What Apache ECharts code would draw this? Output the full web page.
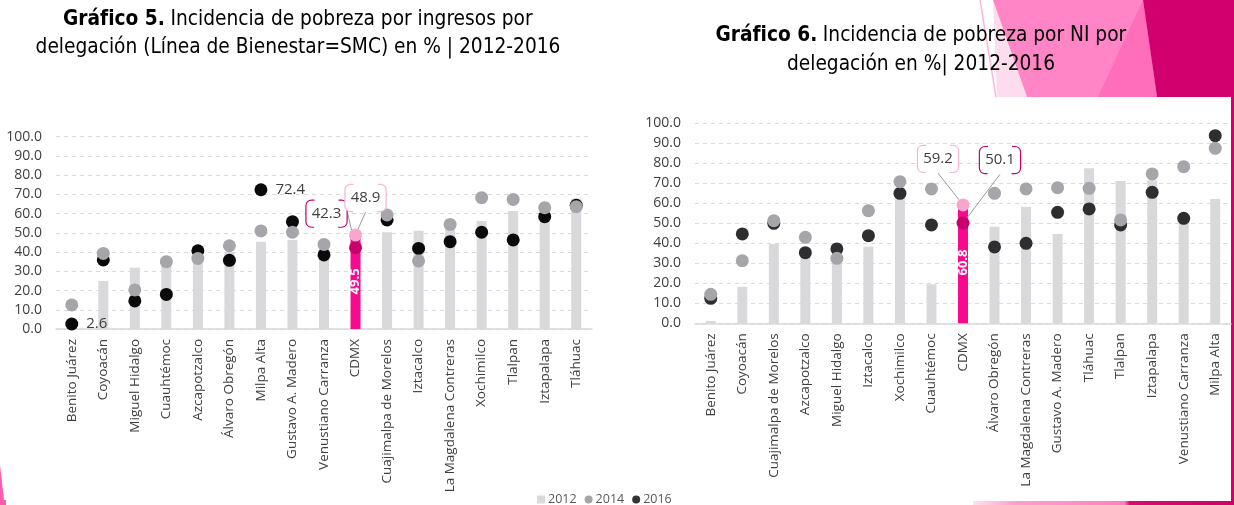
<!DOCTYPE html>
<html lang="es">
<head>
  <meta charset="UTF-8">
  <title>Incidencia de pobreza</title>
  <script src="https://cdn.jsdelivr.net/npm/echarts@6/dist/echarts.min.js"></script>
  <style>
    html, body { margin: 0; padding: 0; background: #fff; }
    #main { width: 1234px; height: 505px; }
  </style>
</head>
<body>
  <div id="main"></div>
  <script>
    // datos Gráfico 5 (línea de bienestar)
    var catsL = ['Benito Juárez', 'Coyoacán', 'Miguel Hidalgo', 'Cuauhtémoc', 'Azcapotzalco', 'Álvaro Obregón',
      'Milpa Alta', 'Gustavo A. Madero', 'Venustiano Carranza', 'CDMX', 'Cuajimalpa de Morelos', 'Iztacalco',
      'La Magdalena Contreras', 'Xochimilco', 'Tlalpan', 'Iztapalapa', 'Tláhuac']
    var l2012 = [4.0, 25.0, 31.9, 34.0, 38.0, 40.0, 45.4, 46.3, 42.0, 49.5, 50.3, 51.1, 53.0, 56.2, 61.4, 61.0, 67.9]
    var l2014 = [12.5, 39.3, 20.3, 35.0, 36.7, 43.3, 51.0, 50.3, 44.0, 48.9, 59.3, 35.4, 54.4, 68.3, 67.4, 63.1, 63.6]
    var l2016 = [2.6, 35.9, 14.6, 18.0, 40.7, 35.7, 72.4, 55.8, 38.5, 42.3, 56.7, 41.9, 45.4, 50.3, 46.3, 58.4, 64.3]

    // datos Gráfico 6 (NI)
    var catsR = ['Benito Juárez', 'Coyoacán', 'Cuajimalpa de Morelos', 'Azcapotzalco', 'Miguel Hidalgo', 'Iztacalco',
      'Xochimilco', 'Cuauhtémoc', 'CDMX', 'Álvaro Obregón', 'La Magdalena Contreras', 'Gustavo A. Madero',
      'Tláhuac', 'Tlalpan', 'Iztapalapa', 'Venustiano Carranza', 'Milpa Alta']
    var r2012 = [1.2, 18.3, 39.7, 36.0, 33.0, 38.3, 62.5, 19.5, 60.8, 48.3, 58.3, 44.7, 77.5, 71.2, 71.5, 53.0, 62.2]
    var r2014 = [14.5, 31.3, 51.3, 43.0, 32.5, 56.3, 70.8, 67.2, 59.2, 65.0, 67.2, 67.8, 67.5, 51.7, 74.7, 78.3, 87.5]
    var r2016 = [12.5, 44.7, 50.0, 35.3, 37.2, 43.8, 65.0, 49.2, 50.1, 38.2, 40.0, 55.5, 57.2, 49.2, 65.5, 52.5, 93.8]

    var yTicks = [0, 10, 20, 30, 40, 50, 60, 70, 80, 90, 100]
    var legendNames = ['2012', '2014', '2016']
    var hiCat = 'CDMX'
    // Valores anotados junto al punto (Gráfico 5, serie 2016)
    var notedL2016 = ['Benito Juárez', 'Milpa Alta']

    var FONT = 'DejaVu Sans Condensed'
    var AXFONT = 'Open Sans'
    var PINK = '#f70a8d', PINK_DK = '#c8006e', PINK_LT = '#f9a6cf'
    var BAR = '#d9d9dc', GRAY = '#a5a5aa'

    var mChart = echarts.init(document.getElementById('main'))

    // caja tipo corchete: solo se ven los lados, no el centro de arriba/abajo
    var boxW = 40, boxH = 26, boxR = 5, stub = 3
    var arcs = Math.PI * boxR
    var dashOn = (boxH - 2 * boxR) + arcs + 2 * stub
    var dashOff = (boxW - 2 * boxR) - 2 * stub
    function calloutLabel(color) {
      return {
        show: true,
        position: 'inside',
        formatter: function (p) { return p.value.toFixed(1) },
        color: '#404040',
        fontFamily: AXFONT,
        fontSize: 15,
        width: boxW - 10,
        height: boxH - 8,
        lineHeight: boxH - 8,
        align: 'center',
        verticalAlign: 'middle',
        padding: [4, 5, 4, 5],
        backgroundColor: '#fff',
        borderColor: color,
        borderWidth: 1.2,
        borderRadius: boxR,
        borderType: [dashOn, dashOff],
        borderDashOffset: dashOn - stub
      }
    }

    function barData(cats, vals) {
      return vals.map(function (v, i) {
        if (cats[i] !== hiCat) return v
        return {
          value: v,
          itemStyle: { color: PINK },
          label: {
            show: true, position: 'inside', rotate: 90, color: '#fff',
            fontFamily: AXFONT, fontWeight: 'bold', fontSize: 13,
            formatter: function (p) { return p.value.toFixed(1) }
          }
        }
      })
    }

    function dotData(cats, vals, hiColor, noted) {
      return vals.map(function (v, i) {
        if (cats[i] === hiCat) {
          return {
            value: v,
            itemStyle: { color: hiColor },
            label: calloutLabel(hiColor === PINK_LT ? '#f7b6d6' : PINK_DK),
            labelLine: { show: true, lineStyle: { color: '#9a9a9a', width: 1 } }
          }
        }
        if (noted && noted.indexOf(cats[i]) >= 0) {
          return {
            value: v,
            label: {
              show: true, position: 'right', distance: 8, color: '#404040',
              fontFamily: AXFONT, fontSize: 15,
              formatter: function (p) { return p.value.toFixed(1) }
            }
          }
        }
        return v
      })
    }

    // desplazamientos de las cajas respecto al punto
    var offsets = {
      '1-9': [-29, -34], // 2016 izq
      '2-9': [10, -37],  // 2014 izq
      '4-8': [37, -63],  // 2016 der
      '5-8': [-25, -46]  // 2014 der
    }
    function moveLabel(p) {
      var o = offsets[p.seriesIndex + '-' + p.dataIndex]
      if (!o) return {}
      return { dx: o[0], dy: o[1] }
    }

    function yAxis(gi) {
      return {
        type: 'value', gridIndex: gi, min: 0, max: 100, interval: 10,
        axisLine: { show: false }, axisTick: { show: false },
        axisLabel: {
          margin: 14, color: '#404040', fontFamily: AXFONT, fontSize: 14,
          formatter: function (v) { return yTicks.indexOf(v) >= 0 ? v.toFixed(1) : '' }
        },
        splitLine: { lineStyle: { color: '#d9d9d9', type: [4, 4], width: 1 } }
      }
    }
    function xAxis(gi, cats) {
      return {
        type: 'category', gridIndex: gi, data: cats,
        axisLine: { lineStyle: { color: '#d9d9d9', width: 1.5 } },
        axisTick: { show: false },
        axisLabel: { rotate: 90, interval: 0, margin: 10, color: '#404040', fontFamily: AXFONT, fontSize: 13.5 }
      }
    }

    function series(gi, cats, v12, v14, v16, dark, noted) {
      return [
        { name: '2012', type: 'bar', xAxisIndex: gi, yAxisIndex: gi, barWidth: 10, z: 2,
          itemStyle: { color: BAR }, data: barData(cats, v12) },
        { name: '2016', type: 'scatter', xAxisIndex: gi, yAxisIndex: gi, symbolSize: 13, z: 3,
          itemStyle: { color: dark, opacity: 1 }, labelLayout: moveLabel,
          data: dotData(cats, v16, PINK_DK, noted) },
        { name: '2014', type: 'scatter', xAxisIndex: gi, yAxisIndex: gi, symbolSize: 13, z: 4,
          itemStyle: { color: GRAY, opacity: 1 }, labelLayout: moveLabel,
          data: dotData(cats, v14, PINK_LT) }
      ]
    }

    var titleRich = {
      b: { fontFamily: FONT, fontSize: 20.7, fontWeight: 'bold', color: '#000' },
      n: { fontFamily: FONT, fontSize: 20.7, color: '#000' }
    }
    function titleLine(x, y, text) {
      return {
        type: 'text', x: x, y: y, z: 10,
        style: { text: text, rich: titleRich, align: 'center', verticalAlign: 'middle' }
      }
    }

    var option = {
      animation: false,
      textStyle: { fontFamily: AXFONT },
      grid: [
        { left: 56, right: 642, top: 136.7, bottom: 176 },
        { left: 695, right: 3, top: 123.3, bottom: 181.7 }
      ],
      xAxis: [xAxis(0, catsL), xAxis(1, catsR)],
      yAxis: [yAxis(0), yAxis(1)],
      legend: {
        data: [
          { name: legendNames[0], icon: 'rect' },
          { name: legendNames[1], icon: 'circle' },
          { name: legendNames[2], icon: 'circle', itemStyle: { color: '#333' } }
        ],
        left: 532, top: 488, itemWidth: 8, itemHeight: 8, itemGap: 8,
        textStyle: { color: '#595959', fontFamily: AXFONT, fontSize: 12.5, padding: [0, 0, 0, -2] }
      },
      series: series(0, catsL, l2012, l2014, l2016, '#0a0a0a', notedL2016)
        .concat(series(1, catsR, r2012, r2014, r2016, '#2e2e31')),
      graphic: [
        // adornos rosas de la lámina
        { type: 'polygon', silent: true, z: 0, shape: { points: [[993, 0], [997, 97], [1027, 97]] }, style: { fill: '#fcdced' } },
        { type: 'line', silent: true, z: 0, shape: { x1: 980, y1: 0, x2: 996, y2: 97 }, style: { stroke: '#ffb3d9', lineWidth: 1.5 } },
        { type: 'polygon', silent: true, z: 0, shape: { points: [[993, 0], [1143, 0], [1157, 97], [1027, 97]] }, style: { fill: '#ff85c6' } },
        { type: 'polygon', silent: true, z: 0, shape: { points: [[1143, 0], [1157, 97], [1098, 97]] }, style: { fill: '#ff6fb9' } },
        { type: 'polygon', silent: true, z: 0, shape: { points: [[1143, 0], [1234, 0], [1234, 97], [1157, 97]] }, style: { fill: '#d1006e' } },
        { type: 'rect', silent: true, z: 0, shape: { x: 1231, y: 97, width: 3, height: 408 }, style: { fill: '#d1006e' } },
        { type: 'rect', silent: true, z: 0, shape: { x: 973, y: 501, width: 261, height: 4 },
          style: { fill: new echarts.graphic.LinearGradient(0, 0, 1, 0, [
            { offset: 0, color: '#fde3ef' }, { offset: 0.16, color: '#ff9fd0' },
            { offset: 0.58, color: '#ff7fc0' }, { offset: 0.6, color: '#d80b78' }, { offset: 1, color: '#cf006c' }]) } },
        { type: 'polygon', silent: true, z: 0, shape: { points: [[0, 465], [4, 500], [6, 500], [6, 505], [0, 505]] }, style: { fill: '#ff5cae' } },
        // títulos
        titleLine(298, 20, '{b|Gráfico 5.}{n| Incidencia de pobreza por ingresos por}'),
        titleLine(298, 48, '{n|delegación (Línea de Bienestar=SMC) en % | 2012-2016}'),
        titleLine(921, 36, '{b|Gráfico 6.}{n| Incidencia de pobreza por NI por}'),
        titleLine(921, 65, '{n|delegación en %| 2012-2016}')
      ]
    }

    mChart.setOption(option)
    window.onresize = mChart.resize
  </script>
</body>
</html>
